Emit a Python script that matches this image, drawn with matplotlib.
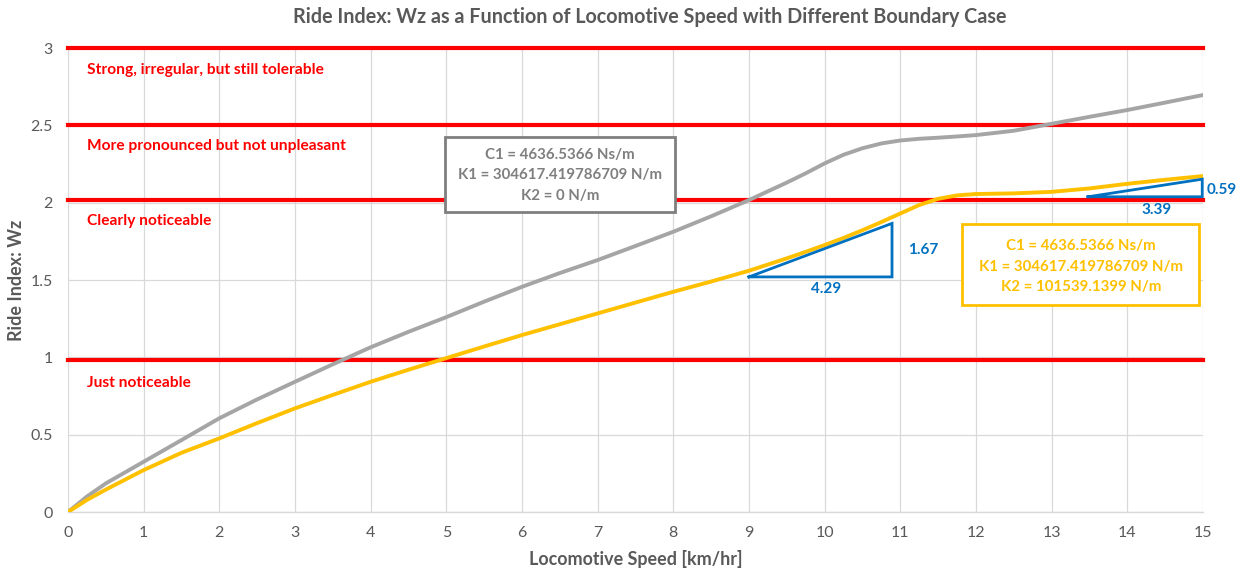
import matplotlib
matplotlib.use("Agg")
import matplotlib.pyplot as plt
from matplotlib.patches import Rectangle

plt.rcParams['font.family'] = ['Lato', 'DejaVu Sans']

# Locomotive speed [km/hr]
speed = [0, 0.25, 0.5, 1, 1.5, 2, 2.5, 3, 3.5, 4, 4.5, 5, 5.5, 6, 6.5, 7, 7.5,
         8, 8.5, 9, 9.5, 9.75, 10, 10.25, 10.5, 10.75, 11, 11.25, 11.5, 11.75,
         12, 12.5, 13, 13.5, 14, 14.5, 15]

# Ride index Wz, K2 = 0 N/m
wz_k2_zero = [0, 0.1, 0.185, 0.325, 0.465, 0.606, 0.728, 0.842, 0.955, 1.065,
              1.165, 1.26, 1.36, 1.456, 1.545, 1.629, 1.72, 1.812, 1.912,
              2.017, 2.13, 2.19, 2.254, 2.31, 2.352, 2.383, 2.402, 2.413,
              2.42, 2.428, 2.437, 2.465, 2.51, 2.555, 2.599, 2.647, 2.696]

# Ride index Wz, K2 = 101539.1399 N/m
wz_k2_set = [0, 0.078, 0.145, 0.271, 0.383, 0.476, 0.575, 0.67, 0.757, 0.842,
             0.92, 0.995, 1.07, 1.144, 1.214, 1.284, 1.354, 1.424, 1.49, 1.56,
             1.64, 1.682, 1.726, 1.772, 1.822, 1.875, 1.93, 1.985, 2.025,
             2.047, 2.056, 2.06, 2.07, 2.092, 2.122, 2.148, 2.172]

# Comfort thresholds and their descriptions
threshold_levels = [3.0, 2.5, 2.02, 0.985]
threshold_labels = ["Strong, irregular, but still tolerable",
                    "More pronounced but not unpleasant",
                    "Clearly noticeable",
                    "Just noticeable"]
threshold_label_y = [2.857, 2.368, 1.881, 0.832]

# Slope triangles (x, y corners) and their side labels
slope1_x = [9.0, 10.89, 10.89, 9.0]
slope1_y = [1.52, 1.52, 1.866, 1.52]
slope1_run, slope1_rise = "4.29", "1.67"
slope2_x = [13.48, 14.99, 14.99, 13.48]
slope2_y = [2.038, 2.038, 2.152, 2.038]
slope2_run, slope2_rise = "3.39", "0.59"

case_a = ["C1 = 4636.5366 Ns/m", "K1 = 304617.419786709 N/m", "K2 = 0 N/m"]
case_b = ["C1 = 4636.5366 Ns/m", "K1 = 304617.419786709 N/m",
          "K2 = 101539.1399 N/m"]

xticks = list(range(0, 16))
yticks = [0, 0.5, 1, 1.5, 2, 2.5, 3]
ytick_labels = ["0", "0.5", "1", "1.5", "2", "2.5", "3"]

RED = "#FF0000"
GRAY = "#A5A5A5"
GOLD = "#FFC000"
BLUE = "#0070C0"
DARKGRAY = "#7F7F7F"
TEXT = "#595959"

W, H = 1251, 572
fig = plt.figure(figsize=(W / 100, H / 100), dpi=100)
ax = fig.add_axes([68 / W, 1 - 512 / H, (1203 - 68) / W, (512 - 48) / H])

ax.set_xlim(0, 15)
ax.set_ylim(0, 3)
ax.set_xticks(xticks)
ax.set_yticks(yticks)
ax.set_yticklabels(ytick_labels)
ax.tick_params(length=0, labelsize=11.5, labelcolor=TEXT)
ax.tick_params(axis='y', pad=11)
ax.tick_params(axis='x', pad=10)
ax.grid(True, color="#D9D9D9", linewidth=0.9)
ax.set_axisbelow(True)
for side in ("top", "right", "left"):
    ax.spines[side].set_visible(False)
ax.spines["bottom"].set_color("#D9D9D9")
ax.spines["bottom"].set_linewidth(1.0)

# Threshold lines
for lvl, lab, ly in zip(threshold_levels, threshold_labels, threshold_label_y):
    ax.axhline(lvl, color=RED, linewidth=3.0, zorder=2, clip_on=False)
    ax.text(0.25, ly, lab, color=RED, fontsize=11.2, fontweight="bold",
            ha="left", va="center")

# Ride index curves
ax.plot(speed, wz_k2_zero, color=GRAY, linewidth=2.8, zorder=4,
        solid_capstyle="round", solid_joinstyle="round")
ax.plot(speed, wz_k2_set, color=GOLD, linewidth=2.8, zorder=4,
        solid_capstyle="round", solid_joinstyle="round")

# Slope triangles
ax.plot(slope1_x, slope1_y, color=BLUE, linewidth=2.0, zorder=5,
        solid_joinstyle="miter")
ax.plot(slope2_x, slope2_y, color=BLUE, linewidth=2.0, zorder=5,
        solid_joinstyle="miter", clip_on=False)
ax.text((slope1_x[0] + slope1_x[1]) / 2 + 0.07, slope1_y[0] - 0.075, slope1_run,
        color=BLUE, fontsize=11, fontweight="bold", ha="center", va="center")
ax.text(slope1_x[1] + 0.41, (slope1_y[1] + slope1_y[2]) / 2, slope1_rise,
        color=BLUE, fontsize=11, fontweight="bold", ha="center", va="center")
ax.text(slope2_x[1] - 0.6, slope2_y[0] - 0.086, slope2_run,
        color=BLUE, fontsize=11, fontweight="bold", ha="center", va="center")
ax.text(slope2_x[1] + 0.26, (slope2_y[1] + slope2_y[2]) / 2 - 0.014, slope2_rise,
        color=BLUE, fontsize=11, fontweight="bold", ha="center", va="center",
        clip_on=False)


def case_box(x0, x1, y0, y1, lines, line_y, color):
    ax.add_patch(Rectangle((x0, y0), x1 - x0, y1 - y0, facecolor="white",
                           edgecolor=color, linewidth=2.0, zorder=6))
    for txt, ty in zip(lines, line_y):
        ax.text((x0 + x1) / 2, ty, txt, color=color, fontsize=10.8,
                fontweight="bold", ha="center", va="center", zorder=7)


case_box(4.98, 8.02, 1.939, 2.424, case_a, [2.308, 2.178, 2.043], DARKGRAY)
case_box(11.82, 14.95, 1.338, 1.860, case_b, [1.719, 1.586, 1.456], GOLD)

ax.set_xlabel("Locomotive Speed [km/hr]", fontsize=12.9, fontweight="bold",
              color=TEXT, labelpad=7)
ax.set_ylabel("Ride Index: Wz", fontsize=12.9, fontweight="bold", color=TEXT,
              labelpad=4)
fig.text(650 / W, 1 - 17 / H,
         "Ride Index: Wz as a Function of Locomotive Speed with Different Boundary Case",
         fontsize=14.2, fontweight="bold", color=TEXT, ha="center", va="center")

fig.savefig("out.png", dpi=100, facecolor="white")
